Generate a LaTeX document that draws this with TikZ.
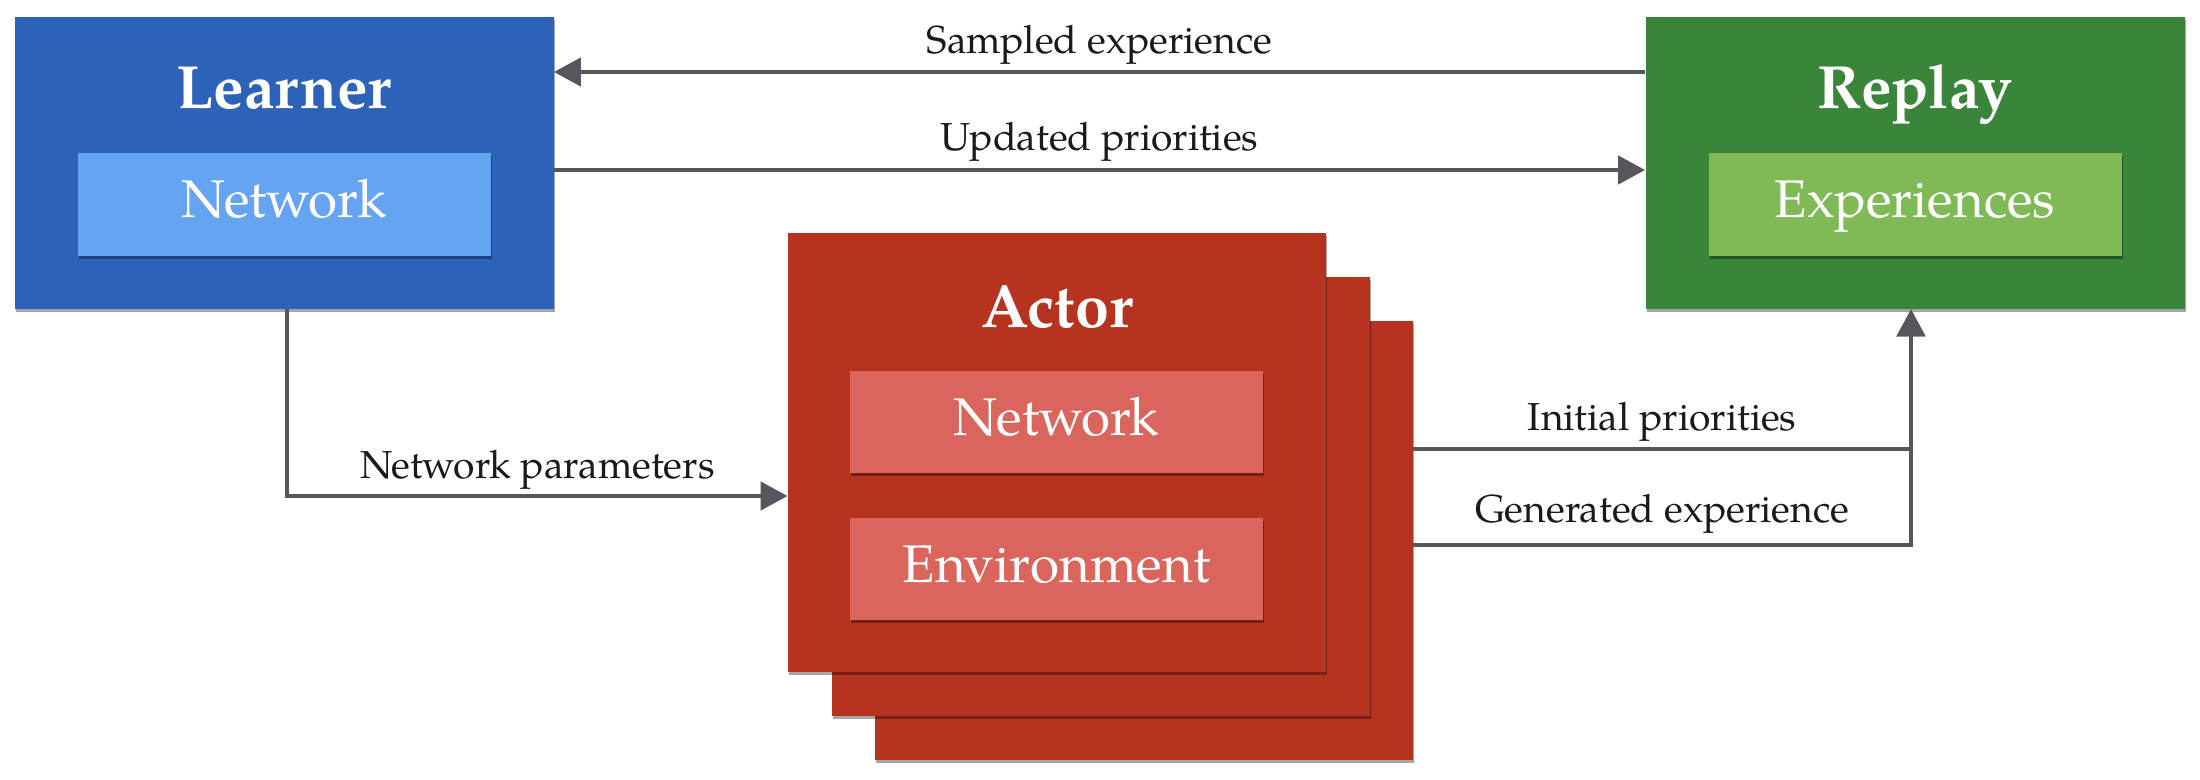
\documentclass[tikz,border=0pt]{standalone}
\usepackage{fontspec}
\setmainfont{TeX Gyre Pagella}
\usetikzlibrary{arrows.meta,shadows,calc}
\definecolor{learnerblue}{RGB}{44,99,184}
\definecolor{netblue}{RGB}{100,164,240}
\definecolor{replaygreen}{RGB}{58,133,57}
\definecolor{expgreen}{RGB}{127,186,86}
\definecolor{actorred}{RGB}{182,52,31}
\definecolor{innerred}{RGB}{218,101,92}
\definecolor{arrowgray}{RGB}{85,87,93}
\definecolor{labelblack}{RGB}{25,25,30}
\tikzset{
  shad/.style={drop shadow={shadow xshift=0.6pt, shadow yshift=-1.6pt, opacity=0.35, fill=black}},
  outerbox/.style={rectangle, draw=none, inner sep=0pt, minimum width=269.5pt, minimum height=146pt, shad},
  actorbox/.style={rectangle, draw=none, inner sep=0pt, minimum width=269pt, minimum height=219.5pt, fill=actorred, shad},
  innerbox/.style={rectangle, draw=none, inner sep=0pt, minimum width=206.5pt, minimum height=51.5pt,
    text=white, font=\fontsize{26.5}{30}\selectfont, text height=18pt, text depth=4.5pt, shad},
  actorinner/.style={innerbox, fill=innerred, minimum height=51pt},
  titletext/.style={text=white, font=\bfseries\fontsize{30.5}{36}\selectfont, anchor=base, inner sep=0pt},
  arr/.style={draw=arrowgray, line width=2.2pt, -{Triangle[length=13.5pt, width=14pt]}},
  lbl/.style={text=labelblack, font=\fontsize{19.5}{22}\selectfont, anchor=base, inner sep=0pt}
}
\begin{document}
\begin{tikzpicture}[x=0.5pt, y=-0.5pt]
\useasboundingbox[fill=white] (0,0) rectangle (2200,780);

% Learner
\node[outerbox, fill=learnerblue] (Learner) at (284,163) {};
\node[titletext] (LearnerT) at (284,109) {Learner};
\node[innerbox, fill=netblue] (LNet) at (284,204.5) {Network};

% Replay
\node[outerbox, fill=replaygreen] (Replay) at (1915,163) {};
\node[titletext] (ReplayT) at (1915,109) {Replay};
\node[innerbox, fill=expgreen] (Exp) at (1915,204.5) {Experiences};

% Actor stack
\node[actorbox] (Actor3) at (1144,540.5) {};
\node[actorbox] (Actor2) at (1100.5,496.5) {};
\node[actorbox] (Actor1) at (1057,452.5) {};
\node[titletext] (ActorT) at (1057,328) {Actor};
\node[actorinner] (ANet) at (1056.5,422) {Network};
\node[actorinner] (AEnv) at (1056.5,569) {Environment};

% Connectors
\draw[arr] ([yshift=45.5pt]Replay.west) -- ([yshift=45.5pt]Learner.east)
  node[lbl, pos=0.5, yshift=9pt] (LSampled) {Sampled experience};
\draw[arr] ([yshift=-3.5pt]Learner.east) -- ([yshift=-3.5pt]Replay.west)
  node[lbl, pos=0.5, yshift=9.5pt] (LUpdated) {Updated priorities};
\draw[arr] ([xshift=1.5pt]Learner.south) |- ([yshift=-21.75pt]Actor1.west)
  node[lbl, pos=0.75, yshift=8.5pt] (LParams) {Network parameters};
\draw[arr] ([yshift=45.75pt]Actor3.east) -| ([xshift=-2pt]Replay.south)
  node[lbl, pos=0.25, yshift=9.5pt] (LInit) {Initial priorities};
\draw[arr] ([yshift=-2.25pt]Actor3.east) -| ([xshift=-2pt]Replay.south)
  node[lbl, pos=0.25, yshift=11.5pt] (LGen) {Generated experience};
\end{tikzpicture}
\end{document}
